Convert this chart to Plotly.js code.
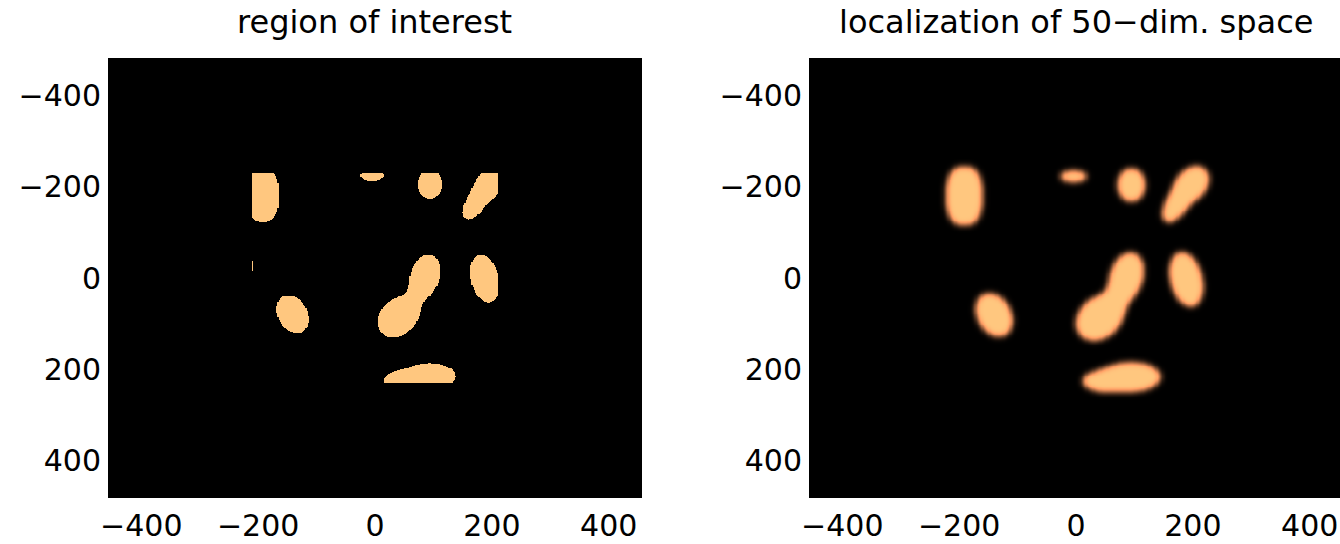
<!DOCTYPE html>
<html><head><meta charset="utf-8">
<script src="https://cdn.plot.ly/plotly-3.0.1.min.js"></script>
<style>html,body{margin:0;padding:0;background:#fff;overflow:hidden}</style>
</head><body><div id="chart" style="width:1340px;height:544px"></div>
<script>
// ---- data ----
const titles = ['region of interest', 'localization of 50\u2212dim. space'];
const tickVals = [-400, -200, 0, 200, 400];
const tickText = ['\u2212400', '\u2212200', '0', '200', '400'];
// blobs of the underlying field (centre, semi-axes, tilt in degrees, shape exponent)
const blobCx    = [-192,   -5,   94,  197,  170, -141,   86,   40,  188,   94,   46, -216];
const blobCy    = [-181, -224, -205, -207, -160,   80,   -5,   86,    2,  216,  226,  -26];
const blobRx    = [  28,   20,   21,   24,   16,   26,   25,   33,   24,   44,   30,    7];
const blobRy    = [  58,   11,   32,   36,   34,   43,   46,   46,   53,   28,   18,   22];
const blobAngle = [   0,    0,    0,   23,   23,  -16,   10,   25,   -9,    0,    0,    0];
const blobPow   = [ 2.5,    2,    2,    2,    2,    2,    2,    2,    2,    2,    2,    2];
const blobInRight = [ 1,    1,    1,    1,    1,    1,    1,    1,    1,    1,    1,    0];
const roiX = [-210, 211];
const roiY = [-230, 230];
const thrLeft = 0.3679, thrRight = 0.27;

// ---- grid ----
const gridX = [], gridY = [];
for (let x = -456; x <= 456; x += 2) gridX.push(x);
for (let y = -482; y <= 482; y += 2) gridY.push(y);

function field(x, y, useRight) {
  let f = 0;
  for (let k = 0; k < blobCx.length; k++) {
    if (useRight && !blobInRight[k]) continue;
    const t = blobAngle[k] * Math.PI / 180;
    const dx = x - blobCx[k], dy = y - blobCy[k];
    const u = dx * Math.cos(t) + dy * Math.sin(t);
    const v = -dx * Math.sin(t) + dy * Math.cos(t);
    const p = blobPow[k];
    f += Math.exp(-(Math.abs(u / blobRx[k]) ** p + Math.abs(v / blobRy[k]) ** p));
  }
  return f;
}

const zLeft = gridY.map(y => gridX.map(x => {
  const inRoi = x >= roiX[0] && x <= roiX[1] && y >= roiY[0] && y <= roiY[1];
  return inRoi && field(x, y, false) >= thrLeft ? 1 : 0;
}));
const maskRight = gridY.map(y => gridX.map(x => field(x, y, true) >= thrRight ? 1 : 0));

function kernel(s) {
  const r = Math.ceil(3 * s), k = [];
  let sum = 0;
  for (let i = -r; i <= r; i++) { const w = Math.exp(-i * i / (2 * s * s)); k.push(w); sum += w; }
  return k.map(w => w / sum);
}
function blur(z, sx, sy) {
  const ny = z.length, nx = z[0].length;
  const kx = kernel(sx), ky = kernel(sy);
  const rx = (kx.length - 1) / 2, ry = (ky.length - 1) / 2;
  const tmp = z.map(row => row.map((_, i) => {
    let s = 0;
    for (let k = -rx; k <= rx; k++) { const ii = i + k; if (ii >= 0 && ii < nx) s += row[ii] * kx[k + rx]; }
    return s;
  }));
  const out = [];
  for (let j = 0; j < ny; j++) {
    const row = new Array(nx);
    for (let i = 0; i < nx; i++) {
      let s = 0;
      for (let k = -ry; k <= ry; k++) { const jj = j + k; if (jj >= 0 && jj < ny) s += tmp[jj][i] * ky[k + ry]; }
      row[i] = s;
    }
    out.push(row);
  }
  return out;
}
const zRight = blur(maskRight, 2.6, 3.3);

// ---- copper colormap ----
const copper = [[0, 'rgb(0,0,0)'], [0.8, 'rgb(255,159,101)'], [1, 'rgb(255,199,127)']];

const W = 1340, H = 544;
const plotL = 108, plotR = 642, plot2L = 809, plotT = 58, plotB = 498;
const xRange = [-457, 457];
const xScale = (plotR - plotL) / (xRange[1] - xRange[0]);
const x2Range = [xRange[0], xRange[0] + (W - plot2L) / xScale];
const yRange = [482.5, -482.5];

const tickFont = {family: 'DejaVu Sans, sans-serif', size: 30, color: '#000'};
function xa(domain, range) {
  return {domain, range, tickvals: tickVals, ticktext: tickText, ticks: '', showgrid: false,
          zeroline: false, showline: false, tickfont: tickFont, ticklabelstandoff: 7, fixedrange: true};
}
function ya(domain, anchor) {
  return {domain, range: yRange, tickvals: tickVals, ticktext: tickText, ticks: '', showgrid: false,
          zeroline: false, showline: false, tickfont: tickFont, ticklabelstandoff: 6, anchor, fixedrange: true};
}
const yDom = [1 - plotB / H, 1 - plotT / H];

const data = [
  {type: 'heatmap', x: gridX, y: gridY, z: zLeft, zmin: 0, zmax: 1, colorscale: copper,
   showscale: false, hoverinfo: 'skip', xaxis: 'x', yaxis: 'y', zsmooth: false},
  {type: 'heatmap', x: gridX, y: gridY, z: zRight, zmin: 0, zmax: 1, colorscale: copper,
   showscale: false, hoverinfo: 'skip', xaxis: 'x2', yaxis: 'y2', zsmooth: 'best'}
];
const layout = {
  width: W, height: H, margin: {l: 0, r: 0, t: 0, b: 0},
  paper_bgcolor: '#fff', plot_bgcolor: '#000', showlegend: false,
  xaxis: xa([plotL / W, plotR / W], xRange),
  yaxis: ya(yDom, 'x'),
  xaxis2: xa([plot2L / W, 1], x2Range),
  yaxis2: ya(yDom, 'x2'),
  annotations: [
    {text: titles[0], xref: 'paper', yref: 'paper', x: (plotL + plotR) / 2 / W, y: 1 - 22 / H,
     xanchor: 'center', yanchor: 'middle', showarrow: false,
     font: {family: 'DejaVu Sans, sans-serif', size: 32, color: '#000'}},
    {text: titles[1], xref: 'paper', yref: 'paper', x: 1076 / W, y: 1 - 22 / H,
     xanchor: 'center', yanchor: 'middle', showarrow: false,
     font: {family: 'DejaVu Sans, sans-serif', size: 32, color: '#000'}}
  ]
};
Plotly.newPlot('chart', data, layout, {displayModeBar: false, staticPlot: true});
</script></body></html>
